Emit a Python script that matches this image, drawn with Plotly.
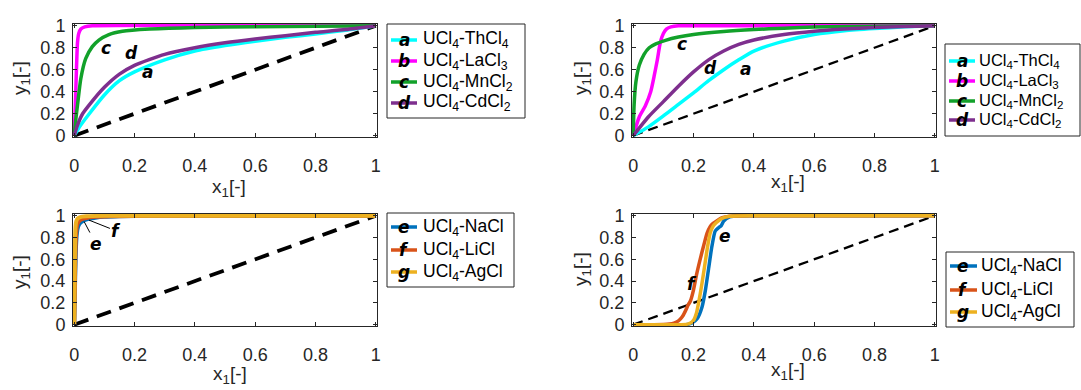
import plotly.graph_objects as go

# ---------------- data ----------------
tick_vals = [0, 0.2, 0.4, 0.6, 0.8, 1.0]
tick_text = ["0", "0.2", "0.4", "0.6", "0.8", "1"]

diag_x = [0, 1]
diag_y = [0, 1]

# Panel 1 (top-left)
p1_a_x = [0, 0.02, 0.05, 0.1, 0.15, 0.2, 0.3, 0.4, 0.5, 0.6, 0.7, 0.8, 0.9, 1.0]
p1_a_y = [0, 0.09, 0.2, 0.37, 0.5, 0.58, 0.69, 0.77, 0.82, 0.86, 0.895, 0.925, 0.96, 1.0]
p1_b_x = [0, 0.004, 0.008, 0.011, 0.015, 0.022, 0.035, 0.06, 1.0]
p1_b_y = [0, 0.3, 0.65, 0.85, 0.93, 0.97, 0.99, 1.0, 1.0]
p1_c_x = [0, 0.005, 0.011, 0.022, 0.038, 0.06, 0.082, 0.115, 0.16, 0.25, 0.4, 0.6, 0.8, 1.0]
p1_c_y = [0, 0.14, 0.28, 0.52, 0.70, 0.81, 0.87, 0.92, 0.95, 0.97, 0.985, 0.992, 0.996, 1.0]
p1_d_x = [0, 0.01, 0.027, 0.05, 0.1, 0.15, 0.2, 0.3, 0.4, 0.5, 0.6, 0.7, 0.8, 0.9, 1.0]
p1_d_y = [0, 0.09, 0.195, 0.28, 0.44, 0.56, 0.64, 0.74, 0.80, 0.845, 0.88, 0.91, 0.94, 0.965, 1.0]

# Panel 2 (top-right)
p2_a_x = [0, 0.05, 0.1, 0.15, 0.2, 0.25, 0.3, 0.35, 0.4, 0.5, 0.6, 0.7, 0.8, 0.9, 1.0]
p2_a_y = [0, 0.08, 0.18, 0.285, 0.39, 0.50, 0.60, 0.69, 0.77, 0.86, 0.92, 0.955, 0.975, 0.99, 1.0]
p2_b_x = [0, 0.02, 0.04, 0.058, 0.07, 0.08, 0.09, 0.1, 0.11, 0.125, 0.15, 0.2, 1.0]
p2_b_y = [0, 0.17, 0.27, 0.40, 0.55, 0.69, 0.85, 0.93, 0.97, 0.99, 1.0, 1.0, 1.0]
p2_c_x = [0, 0.003, 0.009, 0.02, 0.036, 0.053, 0.075, 0.107, 0.15, 0.2, 0.3, 0.4, 0.5, 0.6, 0.8, 1.0]
p2_c_y = [0, 0.28, 0.49, 0.64, 0.74, 0.80, 0.835, 0.867, 0.897, 0.92, 0.947, 0.965, 0.978, 0.988, 0.996, 1.0]
p2_d_x = [0, 0.05, 0.1, 0.15, 0.2, 0.25, 0.3, 0.35, 0.4, 0.5, 0.6, 0.7, 0.8, 0.9, 1.0]
p2_d_y = [0, 0.17, 0.31, 0.45, 0.58, 0.69, 0.77, 0.83, 0.87, 0.92, 0.95, 0.97, 0.985, 0.993, 1.0]

# Panel 3 (bottom-left)
p3_e_x = [0, 0.003, 0.006, 0.009, 0.013, 0.02, 0.03, 0.045, 0.07, 0.1, 0.15, 0.25, 1.0]
p3_e_y = [0, 0.4, 0.72, 0.84, 0.9, 0.935, 0.955, 0.97, 0.982, 0.99, 0.995, 0.999, 1.0]
p3_f_x = [0, 0.003, 0.006, 0.01, 0.016, 0.025, 0.04, 0.07, 0.12, 0.25, 1.0]
p3_f_y = [0, 0.5, 0.82, 0.92, 0.95, 0.968, 0.98, 0.99, 0.995, 0.999, 1.0]
p3_g_x = [0, 0.002, 0.004, 0.007, 0.012, 0.02, 0.04, 0.1, 1.0]
p3_g_y = [0, 0.55, 0.88, 0.95, 0.975, 0.988, 0.995, 0.999, 1.0]

# Panel 4 (bottom-right)
p4_e_x = [0, 0.1, 0.18, 0.195, 0.212, 0.228, 0.239, 0.25, 0.261, 0.272, 0.283, 0.292, 0.3, 0.316, 0.34, 0.4, 1.0]
p4_e_y = [0, 0, 0.003, 0.015, 0.054, 0.16, 0.31, 0.515, 0.72, 0.86, 0.89, 0.91, 0.95, 0.985, 0.997, 1.0, 1.0]
p4_f_x = [0, 0.1, 0.12, 0.135, 0.15, 0.162, 0.172, 0.182, 0.19, 0.2, 0.21, 0.222, 0.234, 0.245, 0.255, 0.265, 0.278, 0.295, 0.32, 0.4, 1.0]
p4_f_y = [0, 0.002, 0.006, 0.015, 0.035, 0.07, 0.12, 0.18, 0.22, 0.32, 0.46, 0.60, 0.73, 0.84, 0.9, 0.93, 0.955, 0.982, 0.996, 1.0, 1.0]
p4_g_x = [0, 0.15, 0.18, 0.19, 0.2, 0.21, 0.222, 0.234, 0.245, 0.255, 0.265, 0.275, 0.294, 0.32, 0.4, 1.0]
p4_g_y = [0, 0, 0.005, 0.015, 0.04, 0.11, 0.28, 0.485, 0.69, 0.84, 0.905, 0.935, 0.976, 0.995, 1.0, 1.0]

names_top = ["UCl<sub>4</sub>-ThCl<sub>4</sub>", "UCl<sub>4</sub>-LaCl<sub>3</sub>",
             "UCl<sub>4</sub>-MnCl<sub>2</sub>", "UCl<sub>4</sub>-CdCl<sub>2</sub>"]
letters_top = ["a", "b", "c", "d"]
names_bot = ["UCl<sub>4</sub>-NaCl", "UCl<sub>4</sub>-LiCl", "UCl<sub>4</sub>-AgCl"]
letters_bot = ["e", "f", "g"]

# ---------------- styles ----------------
C_A, C_B, C_C, C_D = "#00FFFF", "#FF00FF", "#12A12A", "#7E2F8E"
C_E, C_F, C_G = "#0072BD", "#D95319", "#EDB120"
top_colors = [C_A, C_B, C_C, C_D]
bot_colors = [C_E, C_F, C_G]
AXC = "#262626"
FONT = "Liberation Sans"
LFONT = "DejaVu Sans"

W, H = 1081, 390
def px(v): return v / W
def py(v): return 1 - v / H

fig = go.Figure()

def add_line(x, y, ax, color, width, dash=None):
    fig.add_trace(go.Scatter(x=x, y=y, mode="lines", xaxis=ax[0], yaxis=ax[1],
                             line=dict(color=color, width=width, dash=dash, shape="spline", smoothing=0.6),
                             showlegend=False, hoverinfo="skip"))

# panel 1
A1 = ("x", "y")
add_line(diag_x, diag_y, A1, "black", 3.8, "15px,9px")
for xs, ys, c in [(p1_a_x, p1_a_y, C_A), (p1_b_x, p1_b_y, C_B), (p1_c_x, p1_c_y, C_C), (p1_d_x, p1_d_y, C_D)]:
    add_line(xs, ys, A1, c, 3.5)
# panel 2
A2 = ("x2", "y2")
add_line(diag_x, diag_y, A2, "black", 2.3, "10px,6px")
for xs, ys, c in [(p2_a_x, p2_a_y, C_A), (p2_b_x, p2_b_y, C_B), (p2_c_x, p2_c_y, C_C), (p2_d_x, p2_d_y, C_D)]:
    add_line(xs, ys, A2, c, 3.5)
# panel 3
A3 = ("x3", "y3")
add_line(diag_x, diag_y, A3, "black", 3.8, "15px,9px")
for xs, ys, c in [(p3_e_x, p3_e_y, C_E), (p3_f_x, p3_f_y, C_F), (p3_g_x, p3_g_y, C_G)]:
    add_line(xs, ys, A3, c, 4)
# panel 4
A4 = ("x4", "y4")
add_line(diag_x, diag_y, A4, "black", 2.3, "10px,6px")
for xs, ys, c in [(p4_e_x, p4_e_y, C_E), (p4_f_x, p4_f_y, C_F), (p4_g_x, p4_g_y, C_G)]:
    add_line(xs, ys, A4, c, 3.5)

axis_common = dict(tickvals=tick_vals, ticktext=tick_text, ticks="inside", ticklen=4,
                   tickcolor=AXC, tickwidth=1, showline=True, linecolor=AXC, linewidth=1,
                   mirror="ticks", showgrid=False, zeroline=False, fixedrange=True,
                   automargin=False,
                   tickfont=dict(family=FONT, size=18, color=AXC))
xr = [-0.004, 1.004]
yr = [-0.012, 1.016]
xdom_l = [px(73), px(377)]
xdom_r = [px(632), px(936)]
ydom_t = [py(137), py(24)]
ydom_b = [py(326), py(214)]

layout_axes = {}
for i, (xd, yd) in enumerate([(xdom_l, ydom_t), (xdom_r, ydom_t), (xdom_l, ydom_b), (xdom_r, ydom_b)], start=1):
    sx = "" if i == 1 else str(i)
    layout_axes["xaxis" + sx] = dict(axis_common, domain=xd, range=xr, anchor="y" + sx, ticklabelstandoff=12)
    layout_axes["yaxis" + sx] = dict(axis_common, domain=yd, range=yr, anchor="x" + sx, ticklabelstandoff=3)

annotations = []
shapes = []

# axis titles
for (cx, cy) in [(229, 188), (788, 183), (230, 375), (788, 371)]:
    annotations.append(dict(xref="paper", yref="paper", x=px(cx), y=py(cy), text="x<sub>1</sub>[-]",
                            showarrow=False, xanchor="center", yanchor="middle",
                            font=dict(family=FONT, size=19, color=AXC)))
for (cx, cy) in [(21, 78), (582, 78), (21, 272), (582, 269)]:
    annotations.append(dict(xref="paper", yref="paper", x=px(cx), y=py(cy), text="y<sub>1</sub>[-]",
                            showarrow=False, textangle=-90, xanchor="center", yanchor="middle",
                            font=dict(family=FONT, size=19, color=AXC)))

lab_font = dict(family=LFONT, size=17, color="black")
def lab(t): return "<b><i>" + t + "</i></b>"

# curve labels (data coords)
for t, x, y in [("b", 0.045, 1.065), ("c", 0.105, 0.80), ("d", 0.19, 0.755), ("a", 0.242, 0.578)]:
    annotations.append(dict(xref="x", yref="y", x=x, y=y, text=lab(t), showarrow=False, font=lab_font))
for t, x, y in [("b", 0.207, 1.08), ("c", 0.163, 0.83), ("d", 0.257, 0.62), ("a", 0.372, 0.605)]:
    annotations.append(dict(xref="x2", yref="y2", x=x, y=y, text=lab(t), showarrow=False, font=lab_font))
annotations.append(dict(xref="x3", yref="y3", x=0.033, y=0.946, ax=0.072, ay=0.74, axref="x3", ayref="y3",
                        text=lab("e"), showarrow=True, arrowhead=0, arrowwidth=1, arrowcolor="black", font=lab_font))
annotations.append(dict(xref="x3", yref="y3", x=0.049, y=0.96, ax=0.14, ay=0.86, axref="x3", ayref="y3",
                        text=lab("f"), showarrow=True, arrowhead=0, arrowwidth=1, arrowcolor="black", font=lab_font))
annotations.append(dict(xref="x3", yref="y3", x=0.326, y=1.08, text=lab("g"), showarrow=False, font=lab_font))
for t, x, y in [("e", 0.306, 0.81), ("f", 0.196, 0.37), ("g", 0.69, 1.095)]:
    annotations.append(dict(xref="x4", yref="y4", x=x, y=y, text=lab(t), showarrow=False, font=lab_font))

# legends (drawn boxes)
def legend(box, rows, samp, letter_x, text_x, colors, letters, names, fsize):
    x0, y0, x1, y1 = box
    shapes.append(dict(type="rect", xref="paper", yref="paper", x0=px(x0), x1=px(x1), y0=py(y1), y1=py(y0),
                       line=dict(color=AXC, width=1), fillcolor="white", layer="above"))
    for r, c, l, n in zip(rows, colors, letters, names):
        shapes.append(dict(type="line", xref="paper", yref="paper", x0=px(samp[0]), x1=px(samp[1]),
                           y0=py(r), y1=py(r), line=dict(color=c, width=3.5), layer="above"))
        annotations.append(dict(xref="paper", yref="paper", x=px(letter_x), y=py(r), text=lab(l),
                                showarrow=False, xanchor="center", yanchor="middle", font=lab_font))
        annotations.append(dict(xref="paper", yref="paper", x=px(text_x), y=py(r), text=n,
                                showarrow=False, xanchor="left", yanchor="middle",
                                font=dict(family=FONT, size=fsize, color="black")))

legend((387, 24, 525, 118), [40, 61, 82, 103], (391, 417), 404, 421, top_colors, letters_top, names_top, 17.5)
legend((945, 44, 1080, 136), [61, 81, 101, 120], (949, 975), 962, 977, top_colors, letters_top, names_top, 16.5)
legend((387, 213, 514, 287), [227, 250, 272], (391, 417), 404, 421, bot_colors, letters_bot, names_bot, 17.5)
legend((946, 252, 1074, 327), [266, 290, 312], (950, 977), 963, 979, bot_colors, letters_bot, names_bot, 17.5)

fig.update_layout(width=W, height=H, margin=dict(l=0, r=0, t=0, b=0, autoexpand=False),
                  paper_bgcolor="white", plot_bgcolor="white",
                  annotations=annotations, shapes=shapes, **layout_axes)

fig.write_html("out.html", config={"displayModeBar": False},
               post_script="document.body.style.margin='0';document.body.style.padding='0';"
                           "document.body.style.overflow='hidden';")
